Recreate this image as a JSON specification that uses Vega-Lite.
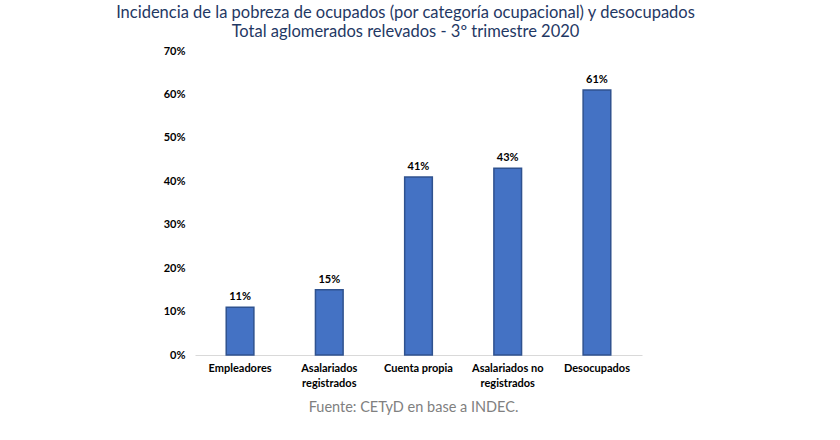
{
  "$schema": "https://vega.github.io/schema/vega-lite/v6.json",
  "autosize": "none",
  "width": 447,
  "height": 304,
  "padding": {"left": 195, "top": 51, "right": 198, "bottom": 85},
  "background": "white",
  "config": {"view": {"stroke": null}, "font": "Lato"},
  "title": {
    "text": ["Incidencia de la pobreza de ocupados (por categoría ocupacional) y desocupados", "Total aglomerados relevados - 3º trimestre 2020"],
    "anchor": "middle",
    "frame": "group",
    "dx": -13,
    "offset": 5,
    "font": "Lato",
    "fontSize": 16.5,
    "fontWeight": "normal",
    "color": "#1F3864",
    "lineHeight": 19
  },
  "data": {
    "values": [
      {"categoria": "Empleadores", "valor": 0.11},
      {"categoria": "Asalariados registrados", "valor": 0.15},
      {"categoria": "Cuenta propia", "valor": 0.41},
      {"categoria": "Asalariados no registrados", "valor": 0.43},
      {"categoria": "Desocupados", "valor": 0.61}
    ]
  },
  "encoding": {
    "x": {
      "field": "categoria",
      "type": "nominal",
      "sort": null,
      "scale": {"paddingInner": 0.69, "paddingOuter": 0.35},
      "axis": {
        "title": "Fuente: CETyD en base a INDEC.",
        "titleColor": "#808080",
        "titleFont": "Lato",
        "titleFontSize": 14.5,
        "titleFontWeight": "normal",
        "titlePadding": 12,
        "titleX": 218,
        "labelAngle": 0,
        "labelFont": "Lato",
        "labelFontSize": 11,
        "labelFontWeight": "bold",
        "labelColor": "#000000",
        "labelPadding": 7,
        "labelLineHeight": 15,
        "labelOverlap": false,
        "labelExpr": "datum.label == 'Asalariados registrados' ? ['Asalariados', 'registrados'] : datum.label == 'Asalariados no registrados' ? ['Asalariados no', 'registrados'] : datum.label",
        "ticks": false,
        "domainColor": "#D9D9D9",
        "domainWidth": 1
      }
    },
    "y": {
      "field": "valor",
      "type": "quantitative",
      "scale": {"domain": [0, 0.7]},
      "axis": {
        "title": null,
        "format": ".0%",
        "values": [0, 0.1, 0.2, 0.3, 0.4, 0.5, 0.6, 0.7],
        "labelOverlap": false,
        "grid": false,
        "domain": false,
        "ticks": false,
        "labelFont": "Lato",
        "labelFontSize": 11,
        "labelFontWeight": "bold",
        "labelColor": "#000000",
        "labelPadding": 10
      }
    }
  },
  "layer": [
    {
      "mark": {"type": "bar", "fill": "#4472C4", "stroke": "#2F528F", "strokeWidth": 1.5}
    },
    {
      "mark": {"type": "text", "baseline": "bottom", "dy": -5, "font": "Lato", "fontSize": 11, "fontWeight": "bold", "color": "#000000"},
      "encoding": {"text": {"field": "valor", "type": "quantitative", "format": ".0%"}}
    }
  ]
}
